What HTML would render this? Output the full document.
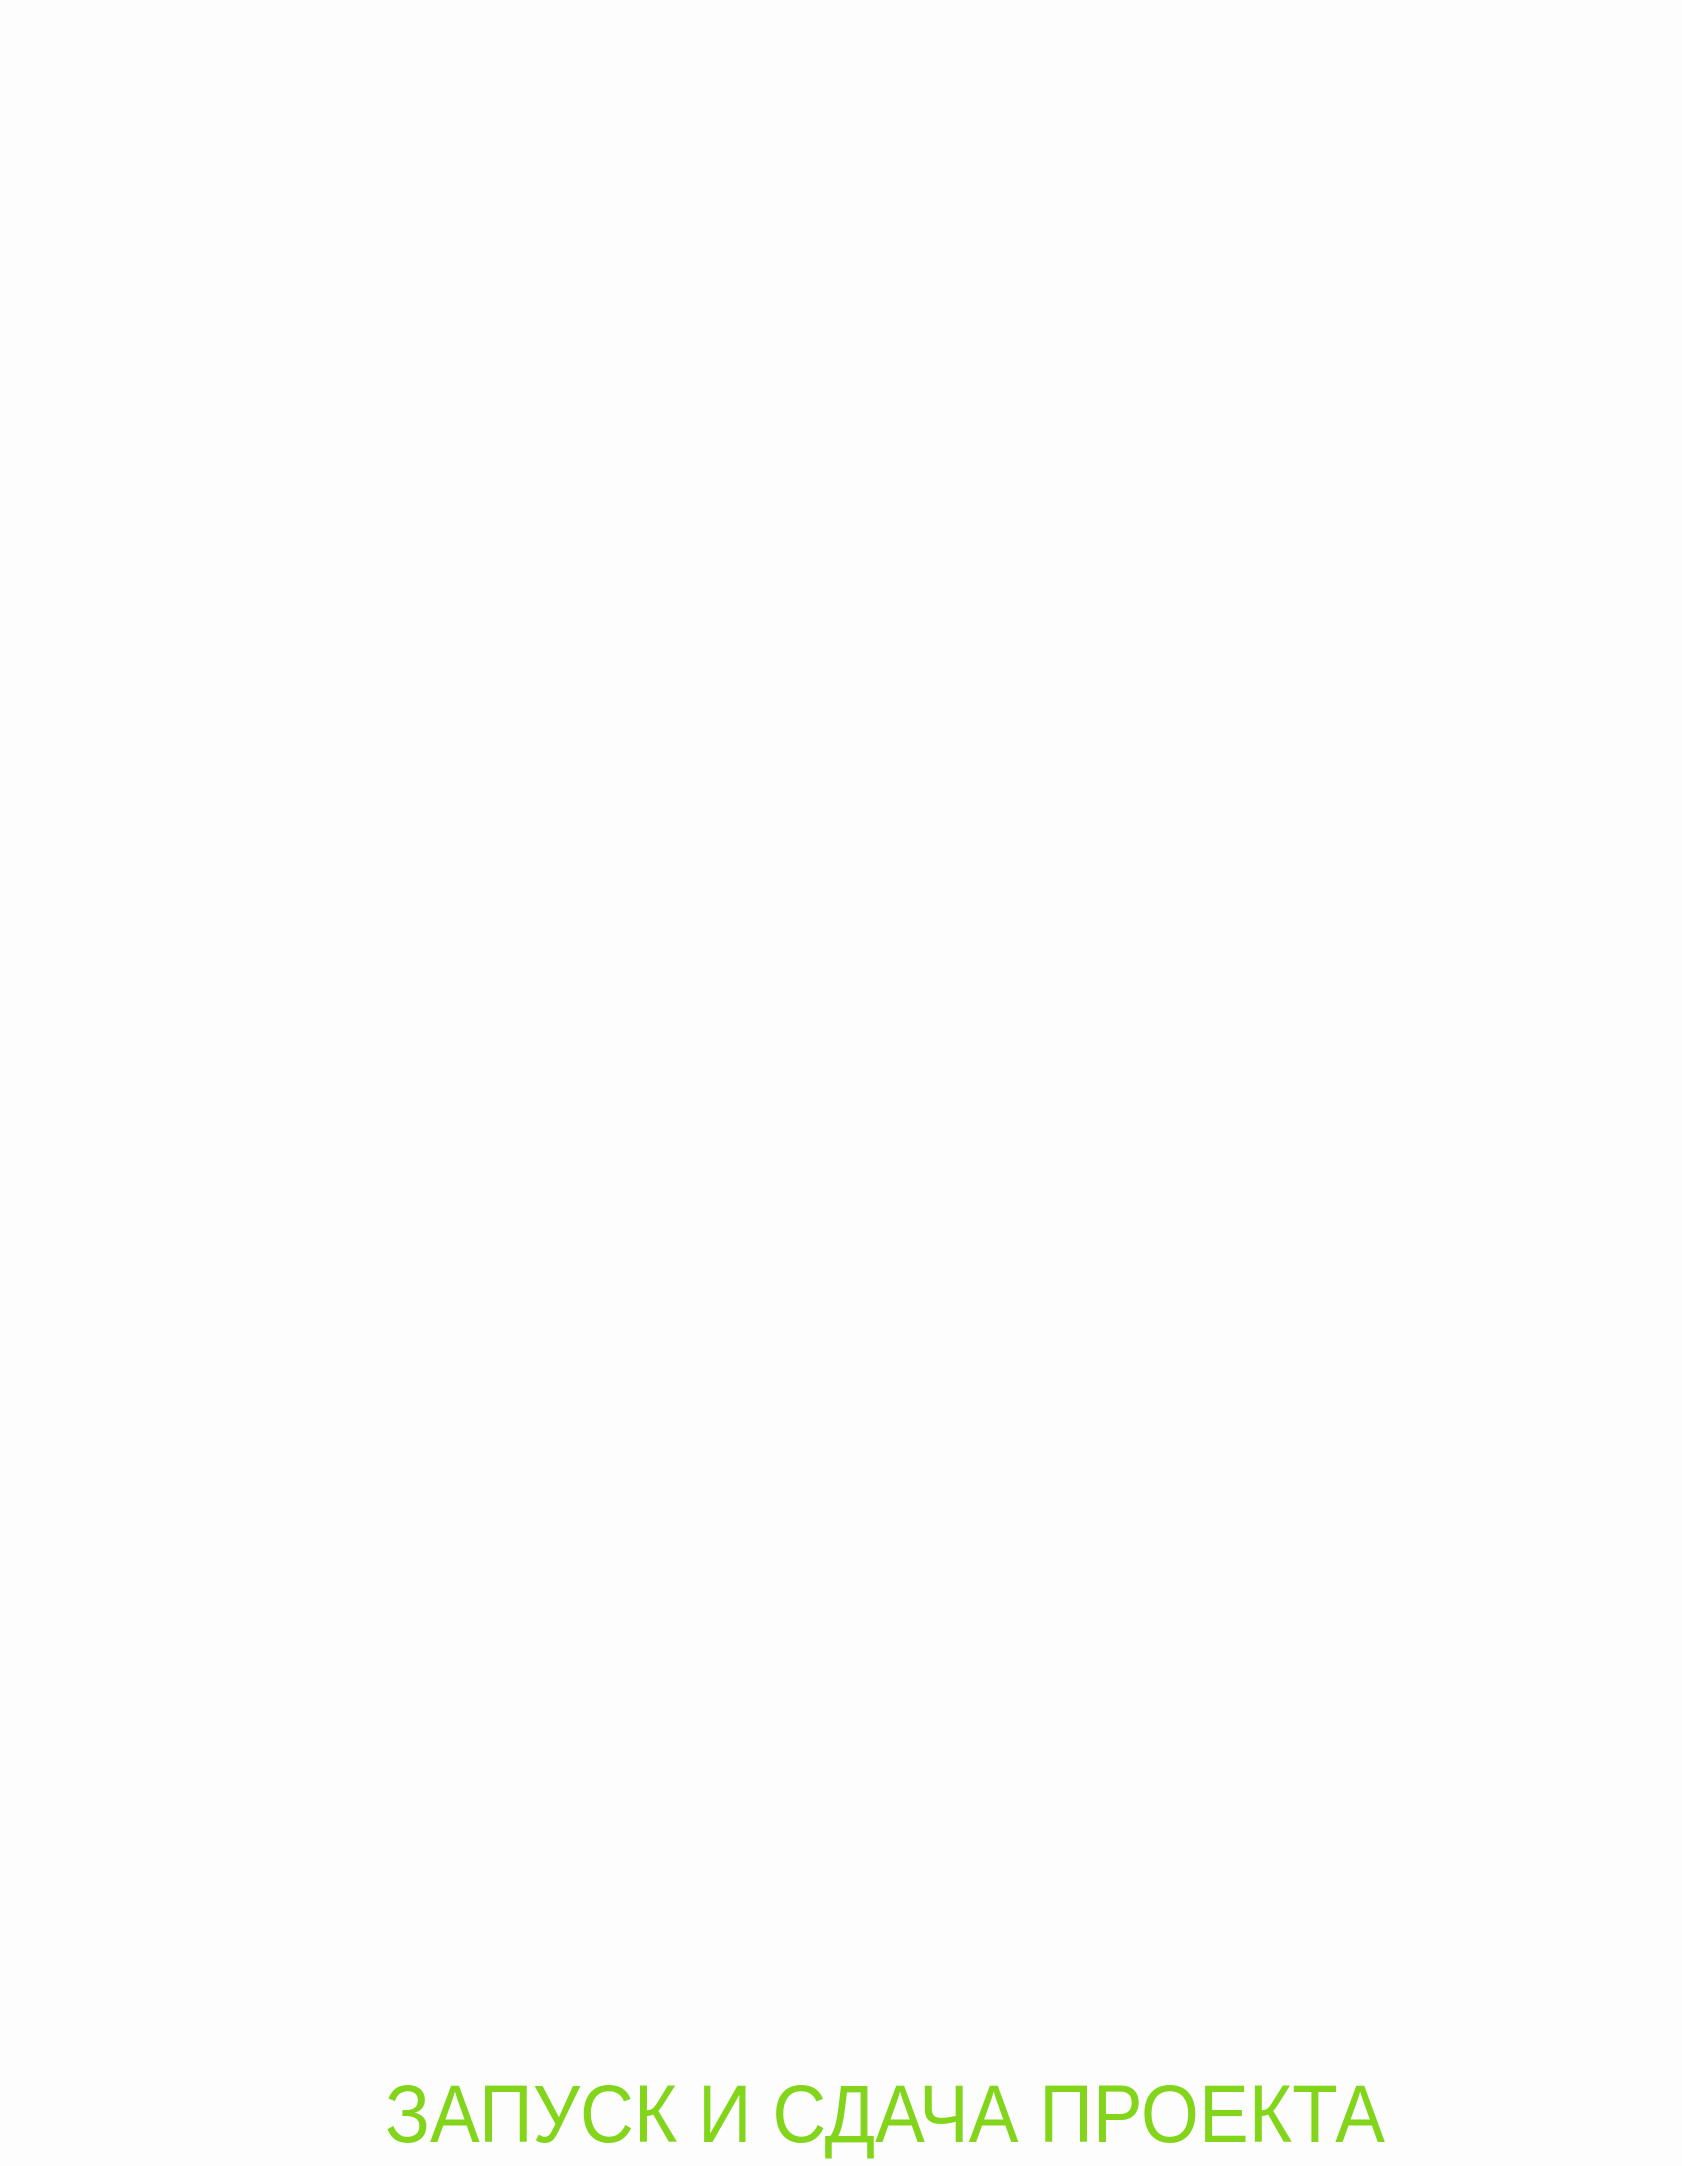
<!DOCTYPE html>
<html lang="ru">
<head>
<meta charset="utf-8">
<style>
  html, body { margin: 0; padding: 0; }
  body { width: 1682px; height: 2166px; background: #fdfdfd; overflow: hidden; position: relative; }
  svg { position: absolute; left: 0; top: 0; }
</style>
</head>
<body>
<svg width="1682" height="2166">
  <text x="385" y="2142"
        font-family="'Liberation Sans', 'DejaVu Sans', sans-serif" font-size="82"
        fill="#82d51b" textLength="1000" lengthAdjust="spacingAndGlyphs"
        font-weight="300">ЗАПУСК И СДАЧА ПРОЕКТА</text>
</svg>
</body>
</html>
